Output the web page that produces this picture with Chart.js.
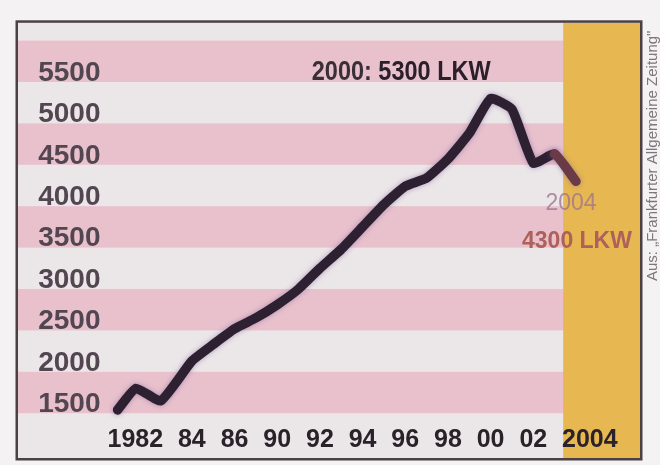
<!DOCTYPE html>
<html>
<head>
<meta charset="utf-8">
<script src="https://cdn.jsdelivr.net/npm/chart.js@4.4.1/dist/chart.umd.min.js"></script>
<style>
html,body{margin:0;padding:0;background:#f4f2f3;}
#wrap{width:660px;height:465px;}
</style>
</head>
<body>
<div id="wrap"><canvas id="c" width="660" height="465"></canvas></div>
<script>
// x-axis tick labels as printed (note: the original skips 88)
const tickLabels = ['1982','84','86','90','92','94','96','98','00','02','2004'];
// y-axis tick values
const yTicks = [1500,2000,2500,3000,3500,4000,4500,5000,5500];
// where each plotted value sits along the printed year axis (in tick-label units)
const yearPos = [-0.74,-0.31,0.27,1,1.5,2,2.5,3,3.5,4,4.5,5,5.5,6,6.5,7,7.5,8,8.5,9,9.5,10];
// number of trucks (LKW)
const lkw = [1540,1800,1650,2130,2330,2520,2650,2810,3000,3250,3480,3750,4020,4240,4340,4570,4880,5300,5170,4520,4630,4300];
const peakNote = ['2000: ','5300 LKW'];
const endNote = ['2004','4300 LKW'];
const sourceNote = 'Aus: „Frankfurter Allgemeine Zeitung"';
const highlightFrom = 9.7;

const SANS = '"Liberation Sans",Arial,sans-serif';

const deco = {
  id: 'deco',
  beforeDraw(chart){
    const {ctx, chartArea:a, scales:{x, y}} = chart;
    const L = y.left, R = a.right, T = a.top, B = x.bottom;
    ctx.save();
    ctx.fillStyle = '#f4f2f3';
    ctx.fillRect(0, 0, chart.width, chart.height);
    ctx.fillStyle = '#ebe6e8';
    ctx.fillRect(L, T, R - L, B - T);
    ctx.fillStyle = '#e8c1cd';
    yTicks.forEach((v, i) => {
      if (i % 2) return;
      const y0 = y.getPixelForValue(v + 500), y1 = y.getPixelForValue(v);
      ctx.fillRect(L, y0, R - L, y1 - y0);
    });
    const hx = x.getPixelForValue(highlightFrom);
    ctx.fillStyle = '#e7b752';
    ctx.fillRect(hx, T, R - hx, B - T);
    ctx.restore();
  },
  beforeDatasetDraw(chart){
    const ctx = chart.ctx;
    ctx.save();
    ctx.shadowColor = 'rgba(120,90,150,0.55)';
    ctx.shadowBlur = 5;
  },
  afterDatasetDraw(chart){
    chart.ctx.restore();
  },
  afterDraw(chart){
    const {ctx, chartArea:a, scales:{x, y}} = chart;
    const L = y.left, R = a.right, T = a.top, B = x.bottom;
    ctx.save();
    // peak annotation (condensed bold face)
    const pk = lkw.indexOf(Math.max(...lkw));
    const px = x.getPixelForValue(yearPos[pk]), py = y.getPixelForValue(lkw[pk]);
    ctx.save();
    ctx.translate(px, py - 19);
    ctx.scale(0.87, 1);
    ctx.textBaseline = 'alphabetic';
    ctx.textAlign = 'right';
    ctx.font = 'bold 27px ' + SANS;
    ctx.fillStyle = '#2b2029';
    const w2 = ctx.measureText(peakNote[1]).width;
    ctx.fillText(peakNote[1], 0, 0);
    ctx.fillStyle = '#3b2f37';
    ctx.fillText(peakNote[0], -w2, 0);
    ctx.restore();
    // end annotation
    const last = lkw.length - 1;
    const ex = x.getPixelForValue(yearPos[last]), ey = y.getPixelForValue(lkw[last]);
    ctx.textAlign = 'center';
    ctx.textBaseline = 'alphabetic';
    ctx.font = '23px ' + SANS;
    ctx.fillStyle = 'rgba(160,118,140,0.8)';
    ctx.fillText(endNote[0], ex - 5, ey + 29);
    ctx.font = 'bold 23px ' + SANS;
    ctx.fillStyle = '#ae605a';
    ctx.fillText(endNote[1], ex + 1, ey + 67);
    // frame
    ctx.strokeStyle = '#4a4045';
    ctx.lineWidth = 2.5;
    ctx.strokeRect(L - 1.25, T - 1.25, R - L + 2.5, B - T + 2.5);
    // source
    ctx.translate(R + 13, T + 133);
    ctx.rotate(-Math.PI / 2);
    ctx.textAlign = 'center';
    ctx.textBaseline = 'middle';
    ctx.font = '15px ' + SANS;
    ctx.fillStyle = '#7d777b';
    ctx.fillText(sourceNote, 0, 0);
    ctx.restore();
  }
};

new Chart(document.getElementById('c'), {
  type: 'line',
  data: {
    datasets: [{
      data: yearPos.map((p, i) => ({x: p, y: lkw[i]})),
      borderColor: '#2d2131',
      borderWidth: 9.5,
      pointRadius: 0,
      tension: 0.15,
      borderCapStyle: 'round',
      borderJoinStyle: 'round',
      segment: {
        borderColor: c => yearPos[c.p1DataIndex] > highlightFrom ? '#6a3b47' : undefined
      }
    }]
  },
  options: {
    responsive: false,
    animation: false,
    devicePixelRatio: 1,
    layout: {padding: {left: 18, top: 17, right: 20, bottom: 7}},
    plugins: {legend: {display: false}, tooltip: {enabled: false}},
    scales: {
      x: {
        type: 'linear', min: -1, max: 11.5,
        grid: {display: false, drawTicks: false}, border: {display: false},
        afterBuildTicks: s => { s.ticks = tickLabels.map((_, i) => ({value: i})); },
        afterFit: s => { s.height = 39; },
        ticks: {
          autoSkip: false, maxRotation: 0, padding: 6,
          color: '#2a2228',
          font: {family: SANS, size: 25, weight: 'bold'},
          callback: (v, i) => {
            const t = tickLabels[i];
            if (i === 0) return t + '    ';
            if (i === tickLabels.length - 1) return '    ' + t;
            return t;
          }
        }
      },
      y: {
        min: 1430, max: 6215,
        grid: {display: false, drawTicks: false}, border: {display: false},
        afterBuildTicks: s => { s.ticks = yTicks.map(v => ({value: v})); },
        afterFit: s => { s.width = 88.5; },
        ticks: {
          padding: 6, labelOffset: -9,
          color: '#524650',
          font: {family: SANS, size: 28, weight: 'bold'},
          callback: v => String(v)
        }
      }
    }
  },
  plugins: [deco]
});
</script>
</body>
</html>
